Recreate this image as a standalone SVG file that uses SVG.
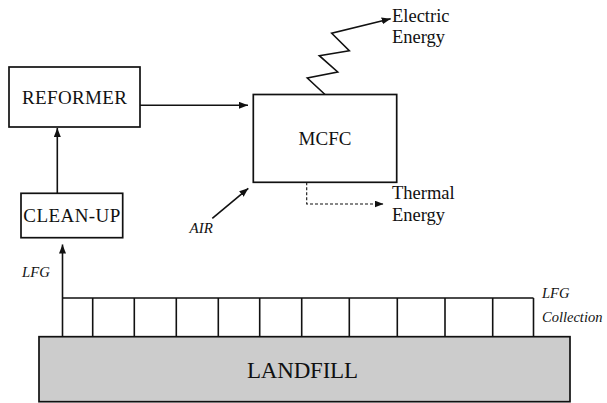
<svg xmlns="http://www.w3.org/2000/svg" width="607" height="403" viewBox="0 0 607 403">
<style>
.box{fill:#fff;stroke:#111;stroke-width:1.7}
.ln{fill:none;stroke:#111;stroke-width:1.6}
.dash{fill:none;stroke:#111;stroke-width:1.1;stroke-dasharray:3,2}
text{font-family:'Liberation Serif','DejaVu Serif',serif;fill:#111}
.i{font-style:italic}
</style>
<defs>
<marker id="ah" markerUnits="userSpaceOnUse" markerWidth="10" markerHeight="8" refX="9" refY="3.5" orient="auto">
<path d="M0,0 L9,3.5 L0,7 z" fill="#111"/>
</marker>
</defs>
<rect width="607" height="403" fill="#fff"/>
<g id="landfill">
<rect x="39" y="336.7" width="531" height="65" fill="#cccccc" stroke="#111" stroke-width="1.7"/>
<text x="302.5" y="378" font-size="23" text-anchor="middle" textLength="111" lengthAdjust="spacing">LANDFILL</text>
</g>
<g id="collection">
<path class="ln" d="M62.5,298 H533.5 M92.7,298 V336.7 M134.3,298 V336.7 M176.3,298 V336.7 M218.3,298 V336.7 M259.7,298 V336.7 M301.7,298 V336.7 M349.3,298 V336.7 M397.3,298 V336.7 M445,298 V336.7 M492.7,298 V336.7 M533.5,298 V336.7"/>
<text class="i" x="542" y="297.5" font-size="14.5">LFG</text>
<text class="i" x="542" y="321.7" font-size="14.5">Collection</text>
</g>
<g id="reformer">
<rect class="box" x="9" y="67" width="131" height="60"/>
<text x="74.5" y="104" font-size="19" text-anchor="middle" textLength="105" lengthAdjust="spacing">REFORMER</text>
</g>
<g id="mcfc">
<rect class="box" x="253.3" y="94.5" width="143.4" height="87.8"/>
<text x="325" y="145" font-size="19" text-anchor="middle">MCFC</text>
</g>
<g id="cleanup">
<rect class="box" x="21" y="193.3" width="101.7" height="44.4"/>
<text x="71.8" y="221.5" font-size="19" text-anchor="middle" textLength="97" lengthAdjust="spacing">CLEAN-UP</text>
</g>
<g id="labels">
<text x="392" y="21.5" font-size="18.5">Electric</text>
<text x="392" y="43" font-size="18.5">Energy</text>
<text x="392" y="199" font-size="18.5">Thermal</text>
<text x="392" y="220.5" font-size="18.5">Energy</text>
<text class="i" x="189.5" y="233" font-size="15">AIR</text>
<text class="i" x="22" y="277" font-size="14.7">LFG</text>
</g>
<g id="connectors">
<path class="ln" d="M140,105.3 H248" marker-end="url(#ah)"/>
<path class="ln" d="M57.3,193.3 V128" marker-end="url(#ah)"/>
<path class="ln" d="M62.5,336.7 V244.5" marker-end="url(#ah)"/>
<path class="ln" d="M212.3,218.3 L248.3,188.3" marker-end="url(#ah)"/>
<path class="ln" d="M325,94.5 L307.3,78 L337.7,72 L319.3,55.7 L349.3,50.7 L331.7,33.3 L390.7,18.7" marker-end="url(#ah)"/>
<path class="dash" d="M306.7,182.3 V204 H383.5" marker-end="url(#ah)"/>
</g>
</svg>
